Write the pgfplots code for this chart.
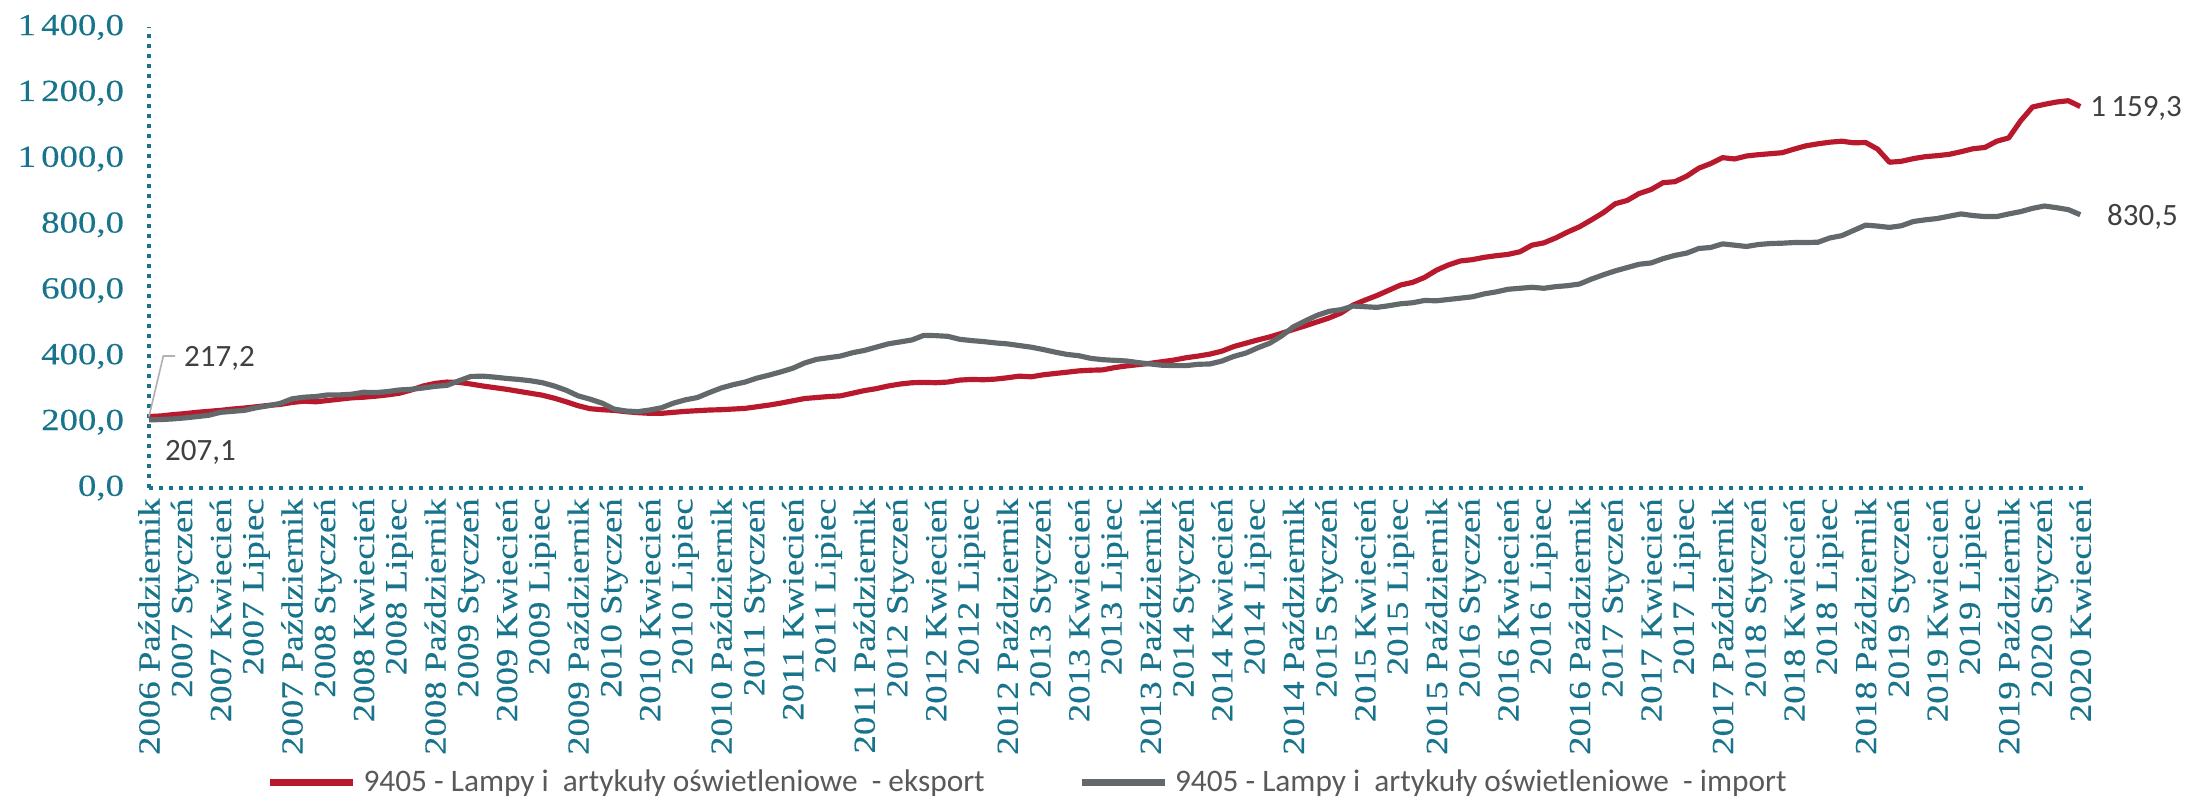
\documentclass[border=0pt]{standalone}
\usepackage{pgfplots}
\usepackage{pgfplotstable}
\pgfplotsset{compat=1.18}
\usepackage{fontspec}
\setmainfont{Liberation Serif}
\newfontfamily\tickfam{Liberation Serif}[FakeStretch=1.2, FakeBold=0.3]
\newfontfamily\sansfam{Carlito}
\definecolor{tealc}{RGB}{24,116,140}
\definecolor{expred}{RGB}{184,25,45}
\definecolor{impgrey}{RGB}{99,104,107}
\definecolor{labgrey}{RGB}{64,64,64}
\definecolor{leggrey}{RGB}{89,89,89}

\pgfplotstableread{
i exp imp
0 217.2 207.1
1 219 208
2 223 210
3 226 213
4 230 217
5 233 221
6 236 230
7 240 233
8 243 236
9 247 244
10 251 250
11 254 257
12 260 271
13 264 276
14 262 278
15 266 283
16 270 283
17 274 285
18 276 291
19 279 290
20 283 293
21 288 298
22 298 300
23 310 304
24 318 309
25 322 312
26 321 326
27 316 339
28 310 340
29 305 337
30 300 333
31 294 330
32 288 326
33 282 320
34 273 310
35 262 297
36 250 280
37 241 270
38 238 258
39 236 240
40 232 234
41 229 232
42 227 237
43 227 244
44 230 258
45 233 268
46 235 275
47 237 290
48 238 304
49 240 314
50 242 322
51 247 334
52 252 343
53 258 353
54 265 364
55 272 380
56 275 391
57 278 396
58 280 401
59 288 411
60 296 418
61 302 428
62 310 438
63 316 444
64 320 450
65 321 464
66 320 463
67 322 461
68 328 452
69 330 448
70 329 445
71 331 441
72 335 438
73 340 433
74 338 428
75 344 421
76 348 413
77 352 406
78 356 402
79 358 394
80 359 390
81 366 388
82 371 386
83 375 381
84 379 377
85 384 373
86 389 372
87 396 372
88 401 376
89 407 377
90 416 386
91 430 400
92 440 410
93 450 426
94 459 440
95 470 462
96 482 490
97 493 508
98 505 525
99 517 537
100 532 542
101 556 553
102 571 551
103 585 549
104 601 554
105 617 560
106 625 563
107 640 570
108 662 569
109 678 573
110 690 577
111 694 581
112 701 590
113 706 596
114 710 604
115 718 607
116 738 610
117 745 607
118 760 612
119 778 615
120 794 620
121 815 635
122 837 648
123 864 660
124 874 670
125 895 680
126 907 684
127 928 697
128 931 707
129 948 714
130 972 728
131 986 731
132 1004 742
133 1000 738
134 1009 734
135 1013 740
136 1016 743
137 1019 744
138 1030 746
139 1040 746
140 1046 747
141 1051 760
142 1054 767
143 1049 783
144 1050 799
145 1030 796
146 990 792
147 993 797
148 1001 810
149 1007 815
150 1010 819
151 1014 826
152 1022 833
153 1031 828
154 1035 825
155 1054 825
156 1064 833
157 1116 840
158 1158 850
159 1166 857
160 1173 852
161 1177 846
162 1159.3 830.5
}\datatable

\begin{document}
\begin{tikzpicture}
\begin{axis}[
  scale only axis,
  width=580.8pt, height=138.2pt,
  at={(44.7pt,95.7pt)}, anchor=south west,
  xmin=0, xmax=162.4, ymin=0, ymax=1400,
  axis lines=left,
  axis line style={-, tealc, line width=1.45pt, dash pattern=on 1.25pt off 1.75pt},
  major tick length=0pt,
  ytick={0,200,...,1400},
  /pgf/number format/assume math mode=true,
  yticklabel style={font=\tickfam\fontsize{9.2}{10}\selectfont, text=tealc, anchor=east, inner sep=0pt,
    /pgf/number format/fixed, /pgf/number format/fixed zerofill, /pgf/number format/precision=1,
    /pgf/number format/use comma, /pgf/number format/1000 sep={\,}},
  yticklabel shift=7.3pt,
  xtick={0,3,...,162},
  xticklabels={2006 Październik,2007 Styczeń,2007 Kwiecień,2007 Lipiec,2007 Październik,2008 Styczeń,2008 Kwiecień,2008 Lipiec,2008 Październik,2009 Styczeń,2009 Kwiecień,2009 Lipiec,2009 Październik,2010 Styczeń,2010 Kwiecień,2010 Lipiec,2010 Październik,2011 Styczeń,2011 Kwiecień,2011 Lipiec,2011 Październik,2012 Styczeń,2012 Kwiecień,2012 Lipiec,2012 Październik,2013 Styczeń,2013 Kwiecień,2013 Lipiec,2013 Październik,2014 Styczeń,2014 Kwiecień,2014 Lipiec,2014 Październik,2015 Styczeń,2015 Kwiecień,2015 Lipiec,2015 Październik,2016 Styczeń,2016 Kwiecień,2016 Lipiec,2016 Październik,2017 Styczeń,2017 Kwiecień,2017 Lipiec,2017 Październik,2018 Styczeń,2018 Kwiecień,2018 Lipiec,2018 Październik,2019 Styczeń,2019 Kwiecień,2019 Lipiec,2019 Październik,2020 Styczeń,2020 Kwiecień},
  xticklabel style={font=\tickfam\fontsize{9.2}{10}\selectfont, text=tealc, rotate=90, anchor=east, inner sep=0pt},
  xticklabel shift=2.9pt,
  legend style={at={(axis description cs:0.455,-0.64)}, anchor=center, legend columns=2,
    draw=none, fill=none, font=\sansfam\fontsize{9.4}{10}\selectfont, text=leggrey,
    /tikz/every even column/.append style={column sep=26pt}},
  legend image code/.code={\draw[#1, line width=2.1pt] (0pt,0pt) -- (25pt,0pt);},
  clip=false,
]
\addplot[expred, line width=1.55pt, line join=round] table[x=i, y=exp] {\datatable};
\addlegendentry{9405 - Lampy i\ \ artykuły oświetleniowe\ \ - eksport}
\addplot[impgrey, line width=1.55pt, line join=round] table[x=i, y=imp] {\datatable};
\addlegendentry{9405 - Lampy i\ \ artykuły oświetleniowe\ \ - import}

\draw[gray!60, line width=0.5pt] (axis cs:0,217.2) -- (axis cs:1.2,401) -- (axis cs:2.2,401);
\node[anchor=west, inner sep=0pt, text=labgrey, font=\sansfam\fontsize{9.3}{10}\selectfont] at (axis cs:2.9,395) {217,2};
\node[anchor=west, inner sep=0pt, text=labgrey, font=\sansfam\fontsize{9.3}{10}\selectfont] at (axis cs:1.3,109) {207,1};
\node[anchor=west, inner sep=0pt, text=labgrey, font=\sansfam\fontsize{9.3}{10}\selectfont] at (axis cs:162.8,1155) {1\,159,3};
\node[anchor=west, inner sep=0pt, text=labgrey, font=\sansfam\fontsize{9.3}{10}\selectfont] at (axis cs:164.2,824) {830,5};
\end{axis}
\pgfresetboundingbox
\useasboundingbox (0,0) rectangle (663pt,242.1pt);
\end{tikzpicture}
\end{document}
